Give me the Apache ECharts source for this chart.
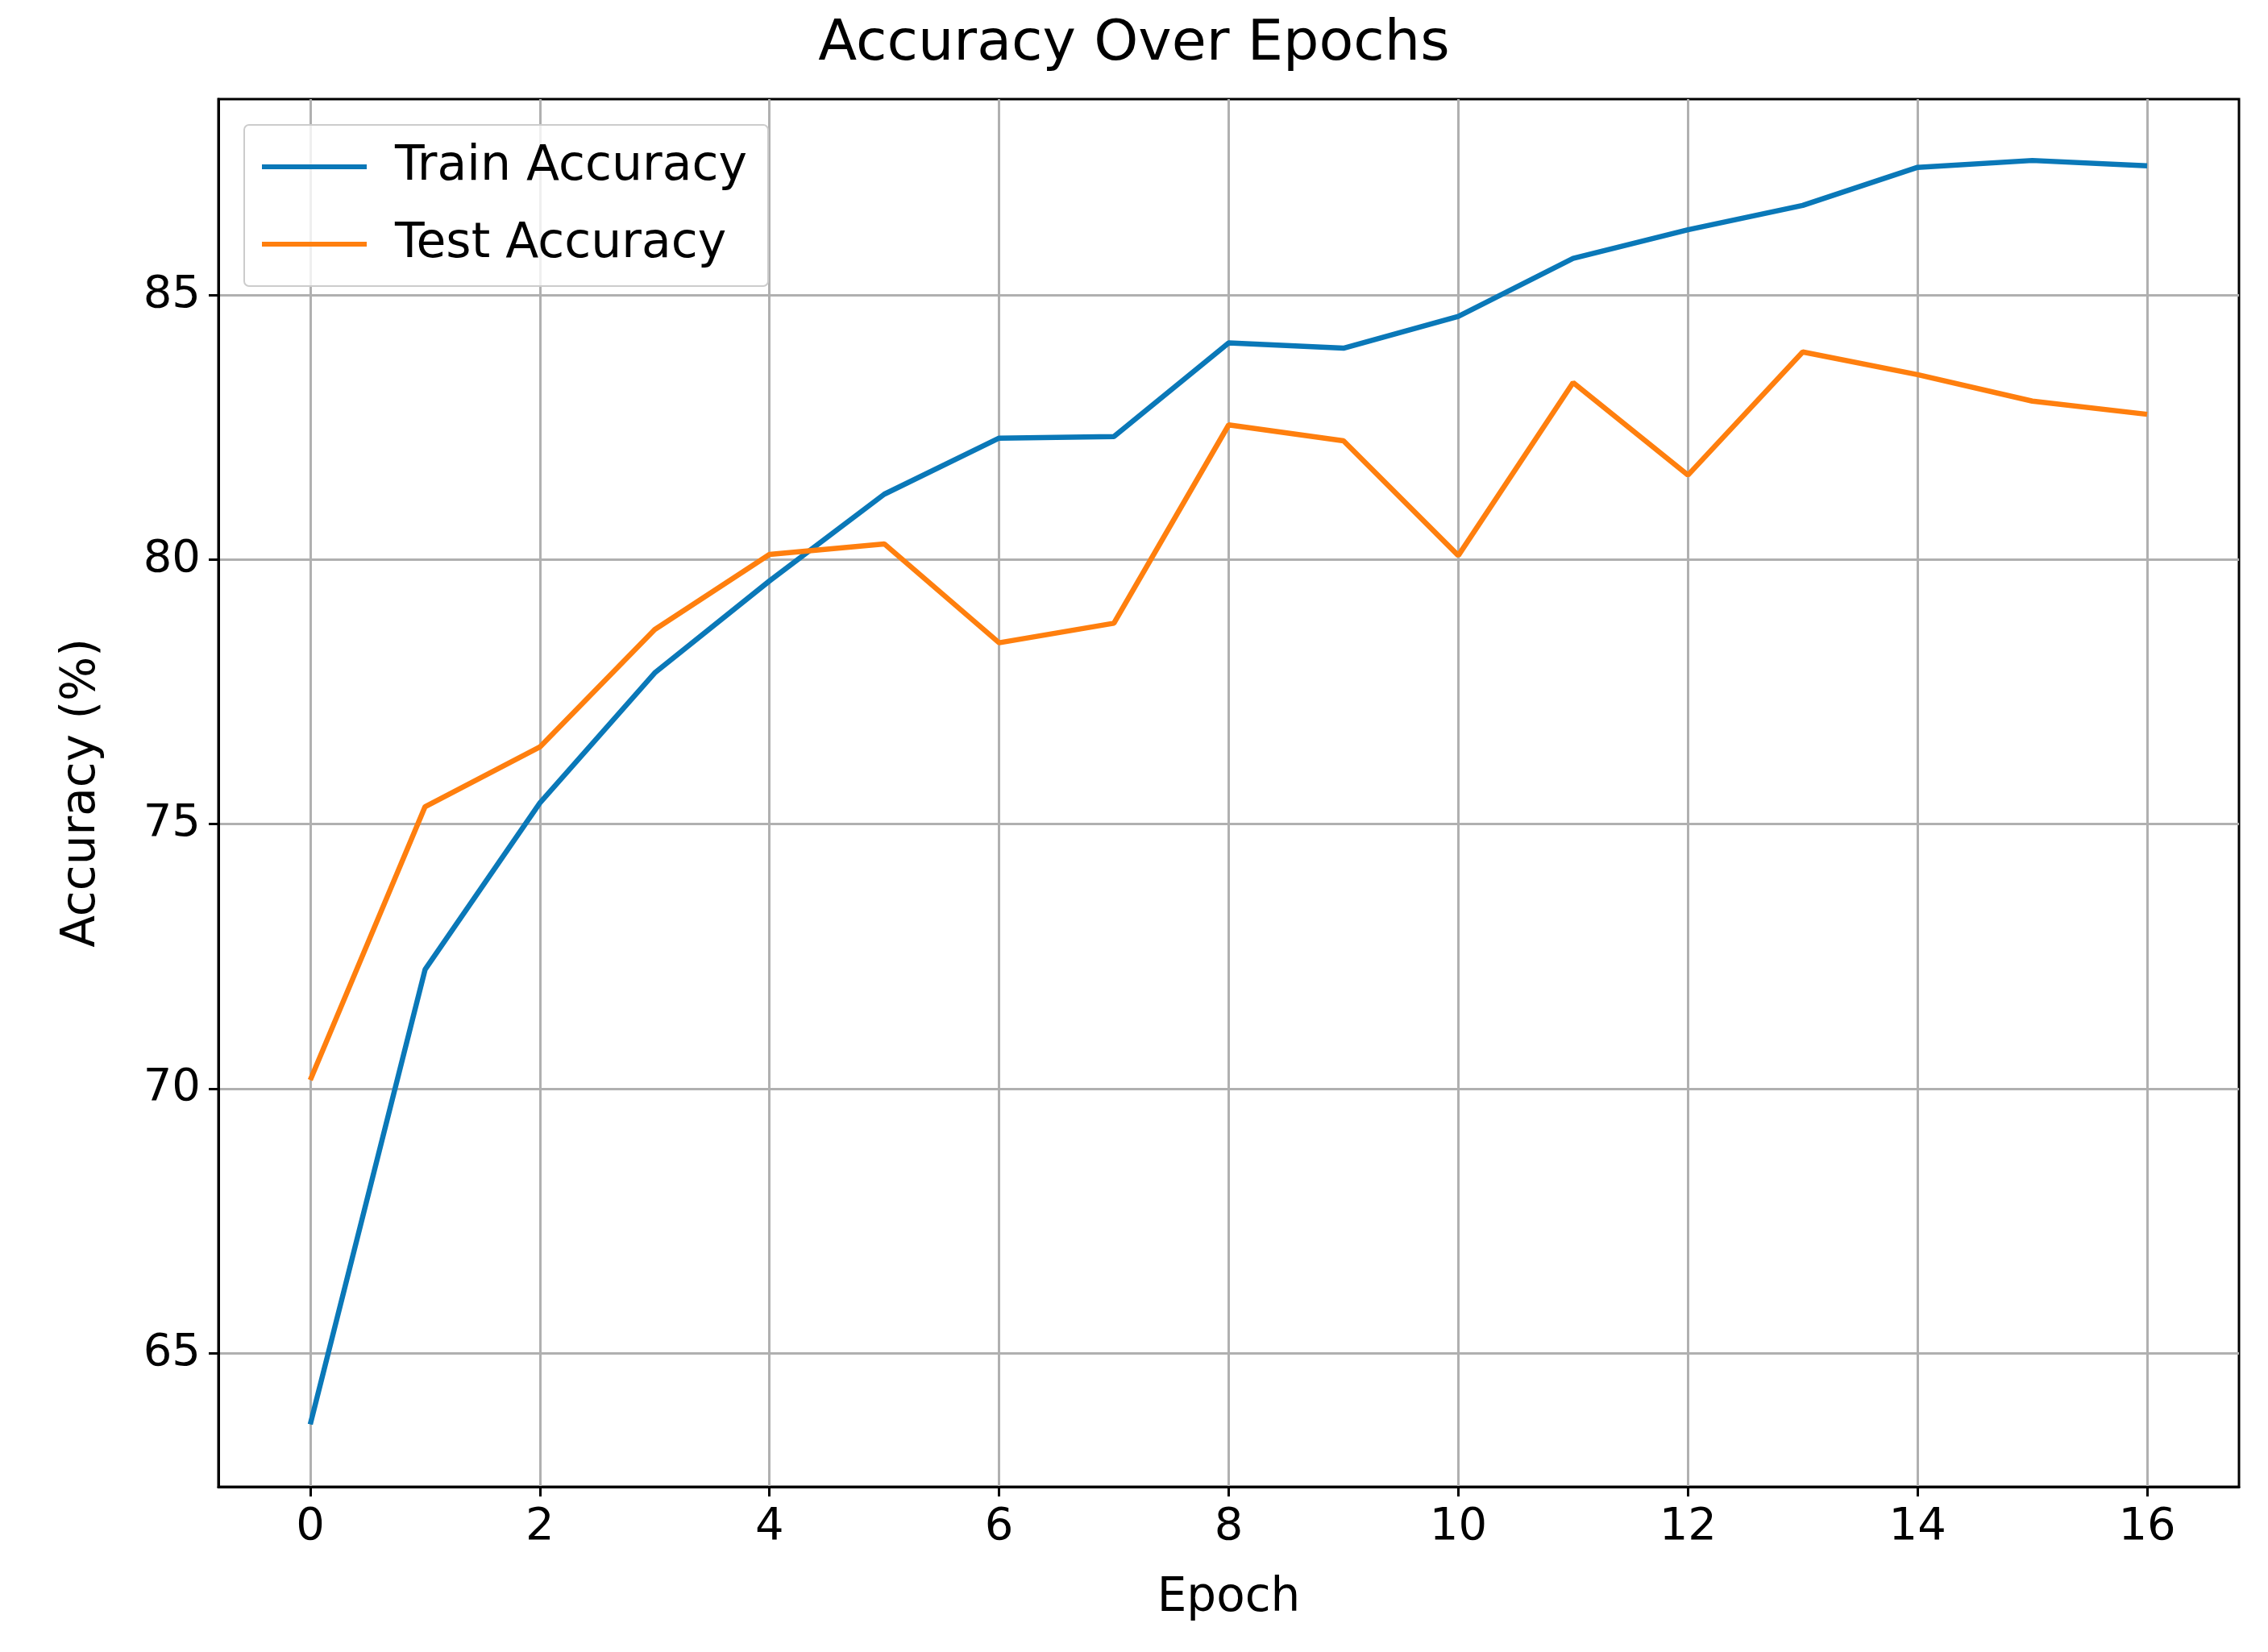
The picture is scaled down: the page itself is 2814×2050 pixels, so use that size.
<!DOCTYPE html>
<html lang="en">
<head>
    <meta charset="UTF-8">
    <title>Accuracy Over Epochs</title>
    <script src="https://cdn.jsdelivr.net/npm/echarts@6/dist/echarts.min.js"></script>
    <style>html,body{margin:0;background:#fff}</style>
</head>
<body>
<div id="chart" style="width:2814px;height:2050px"></div>
<script>
    var epochs = [0,1,2,3,4,5,6,7,8,9,10,11,12,13,14,15,16];
    var trainAcc = [63.65,72.25,75.4,77.86,79.6,81.24,82.3,82.33,84.1,84.0,84.6,85.7,86.24,86.7,87.42,87.55,87.45];
    var testAcc = [70.16,75.33,76.46,78.68,80.1,80.3,78.43,78.8,82.55,82.25,80.08,83.35,81.6,83.93,83.5,83.0,82.75];
    var xTicks = [0,2,4,6,8,10,12,14,16];
    var yTicks = [65,70,75,80,85];

    function pairs(ys) {
        var out = [];
        for (var i = 0; i < epochs.length; i++) out.push([epochs[i], ys[i]]);
        return out;
    }

    var font = 'DejaVu Sans';
    var myChart = echarts.init(document.getElementById('chart'));
    var option = {
        backgroundColor: '#fff',
        animation: false,
        title: {
            text: 'Accuracy Over Epochs', left: 'center', top: 16,
            textStyle: {fontFamily: font, fontSize: 70, fontWeight: 'normal', color: '#000'}
        },
        legend: {
            left: 303, top: 155, orient: 'vertical', itemGap: 36,
            itemWidth: 130, itemHeight: 6,
            padding: [22, 26, 22, 22],
            borderColor: '#ccc', borderWidth: 2, borderRadius: 6,
            backgroundColor: 'rgba(255,255,255,0.8)',
            textStyle: {fontFamily: font, fontSize: 60, color: '#000', padding: [0, 0, 0, 30]},
            icon: 'rect',
            data: ['Train Accuracy', 'Test Accuracy']
        },
        grid: {left: 271, right: 36, top: 123, bottom: 205, show: true,
               borderColor: '#000', borderWidth: 3, backgroundColor: 'transparent'},
        xAxis: {
            type: 'value', min: -0.8, max: 16.8,
            name: 'Epoch', nameLocation: 'middle', nameGap: 110,
            nameTextStyle: {fontFamily: font, fontSize: 58, color: '#000'},
            axisLine: {show: true, onZero: false, lineStyle: {color: '#000', width: 3}},
            axisTick: {show: true, length: 12, lineStyle: {color: '#000', width: 3}, customValues: xTicks},
            axisLabel: {fontFamily: font, fontSize: 56, color: '#000', margin: 22, customValues: xTicks},
            splitLine: {show: true, lineStyle: {color: '#b0b0b0', width: 3}}
        },
        yAxis: {
            type: 'value', min: 62.47, max: 88.71,
            name: 'Accuracy (%)', nameLocation: 'middle', nameGap: 140,
            nameTextStyle: {fontFamily: font, fontSize: 58, color: '#000'},
            axisLine: {show: true, onZero: false, lineStyle: {color: '#000', width: 3}},
            axisTick: {show: true, length: 12, lineStyle: {color: '#000', width: 3}, customValues: yTicks},
            axisLabel: {fontFamily: font, fontSize: 56, color: '#000', margin: 22, customValues: yTicks},
            splitLine: {show: true, lineStyle: {color: '#b0b0b0', width: 3}}
        },
        series: [
            {name: 'Train Accuracy', type: 'line', data: pairs(trainAcc), showSymbol: false,
             color: '#0a78b8', lineStyle: {width: 6.5}},
            {name: 'Test Accuracy', type: 'line', data: pairs(testAcc), showSymbol: false,
             color: '#ff7f0e', lineStyle: {width: 6.5}}
        ]
    };
    myChart.setOption(option);
</script>
</body>
</html>
